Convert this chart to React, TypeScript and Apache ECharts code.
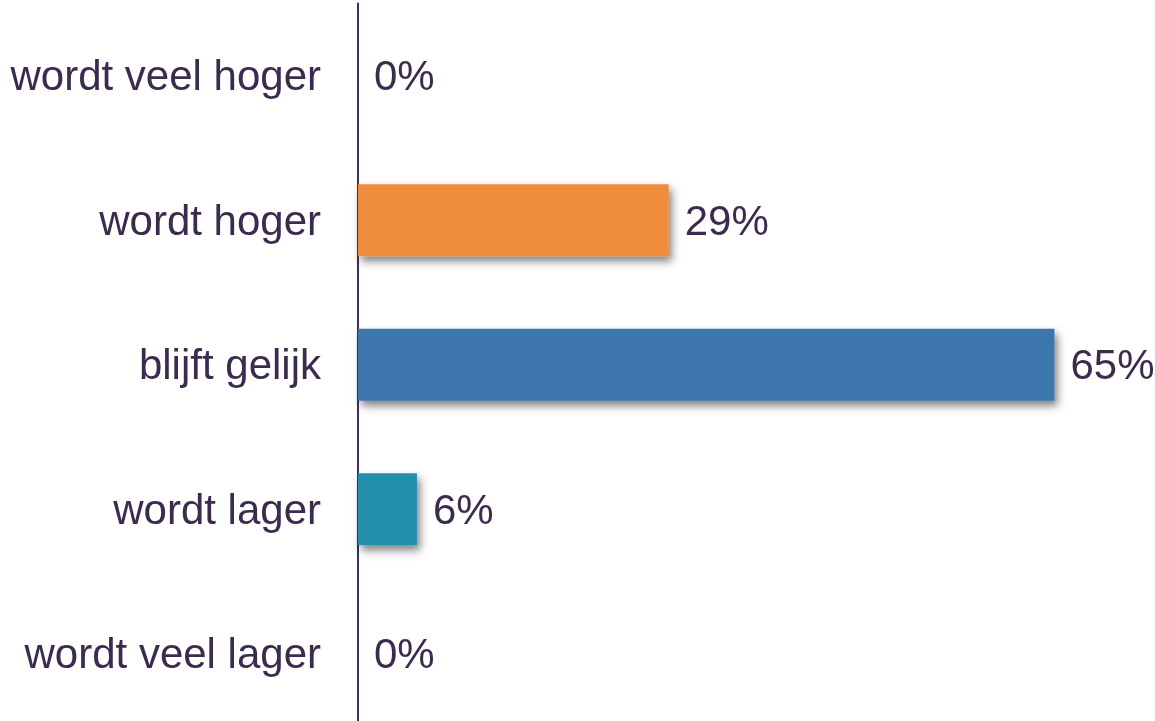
import React, { useEffect, useRef } from "react";
import * as echarts from "echarts";

const categories = ["wordt veel hoger", "wordt hoger", "blijft gelijk", "wordt lager", "wordt veel lager"];
const values = [0, 29, 65, 5.5, 0];
const colors = ["#F08D3C", "#F08D3C", "#3C76AD", "#208FAD", "#208FAD"];

const TEXT = "#3B2C4F";
const FONT = "'Liberation Sans', Arial, sans-serif";

export default function App() {
  const ref = useRef<HTMLDivElement>(null);
  useEffect(() => {
    document.body.style.margin = "0";
    document.body.style.overflow = "hidden";
    const chart = echarts.init(ref.current!, null, { renderer: "svg" });
    chart.setOption({
      animation: false,
      grid: { left: 358, top: 3.5, width: 750, height: 722.5 },
      xAxis: {
        type: "value",
        min: 0,
        max: 70,
        show: false,
      },
      yAxis: {
        type: "category",
        inverse: true,
        data: categories,
        axisLine: { show: true, lineStyle: { color: "#3F2D5C", width: 2 } },
        axisTick: { show: false },
        axisLabel: { color: TEXT, fontSize: 42, fontFamily: FONT, margin: 37 },
      },
      series: [
        {
          type: "bar",
          barWidth: 72,
          data: values.map((v, i) => ({ value: v, itemStyle: { color: colors[i] } })),
          itemStyle: {
            shadowColor: "rgba(0,0,0,0.5)",
            shadowBlur: 8,
            shadowOffsetX: 3,
            shadowOffsetY: 5,
          },
          label: {
            show: true,
            position: "right",
            distance: 16,
            color: TEXT,
            fontSize: 42,
            fontFamily: FONT,
            formatter: (p: any) => Math.round(p.value) + "%",
          },
        },
      ],
    });
    return () => chart.dispose();
  }, []);
  return <div ref={ref} style={{ position: "fixed", left: 0, top: 0, width: 1155, height: 740 }} />;
}
